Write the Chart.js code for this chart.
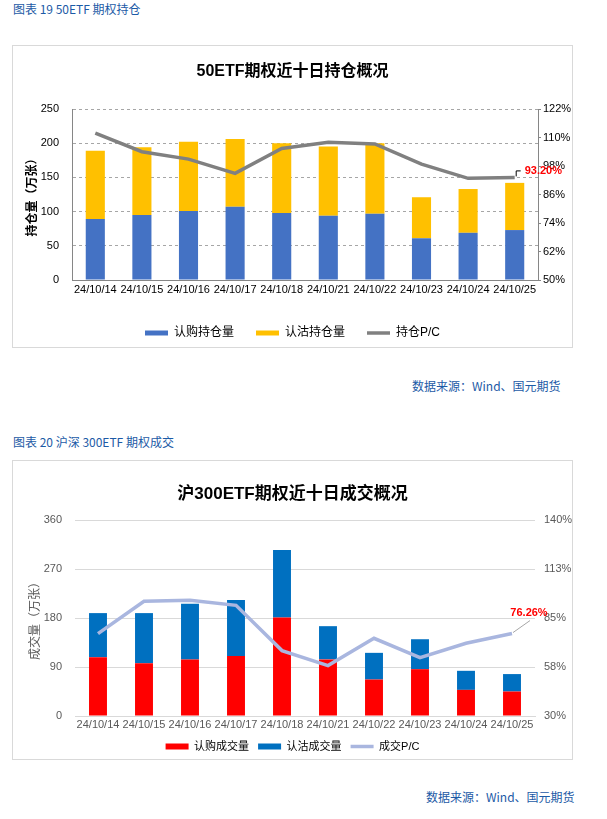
<!DOCTYPE html>
<html><head><meta charset="utf-8">
<script src="https://cdn.jsdelivr.net/npm/chart.js@4"></script>
<style>
body{margin:0;background:#fff;width:607px;height:819px;position:relative;overflow:hidden;font-family:'Liberation Sans','Noto Sans CJK SC',sans-serif;}
.hdr,.src{position:absolute;font-size:12px;color:#1c5aa6;line-height:16px;white-space:nowrap;font-family:'Noto Sans CJK SC','Liberation Sans',sans-serif;}
.box{position:absolute;left:12px;width:561px;border:1px solid #d9d9d9;box-sizing:border-box;}
.box canvas{position:absolute;left:0;top:0;}
</style></head>
<body>
<div class="hdr" style="left:13px;top:1px;">图表 19 50ETF 期权持仓</div>
<div class="box" style="top:45px;height:303px;"><canvas id="c1" width="559" height="301"></canvas></div>
<div class="src" style="left:412px;top:378px;">数据来源：Wind、国元期货</div>
<div class="hdr" style="left:13px;top:434px;">图表 20 沪深 300ETF 期权成交</div>
<div class="box" style="top:460px;height:300px;"><canvas id="c2" width="559" height="298"></canvas></div>
<div class="src" style="left:426px;top:789px;">数据来源：Wind、国元期货</div>
<script>
const dates = ['24/10/14','24/10/15','24/10/16','24/10/17','24/10/18','24/10/21','24/10/22','24/10/23','24/10/24','24/10/25'];
const oiCall = [89, 95, 101, 107, 98, 94, 97, 61, 69, 73];
const oiPut = [100, 99, 101, 99, 102, 101, 103, 60, 64, 69];
const oiPC = [111.8, 104.0, 100.9, 94.9, 105.4, 108.0, 107.3, 98.8, 92.8, 93.2];
const volCall = [108, 97, 104, 110, 181, 104, 67, 86, 48, 45];
const volPut = [81, 92, 102, 103, 124, 61, 49, 55, 35, 32];
const volPC = [76.2, 94.4, 94.9, 92.1, 66.7, 58.3, 73.6, 62.7, 70.8, 76.26];

Chart.defaults.font.family = "'Liberation Sans','Noto Sans CJK SC',sans-serif";

function legendLabels(chart){
  return Chart.defaults.plugins.legend.labels.generateLabels(chart).map(it => {
    const isLine = chart.data.datasets[it.datasetIndex].type === 'line';
    it.pointStyle = isLine ? 'line' : 'rect';
    if (!isLine) it.lineWidth = 0;
    return it;
  }).sort((a,b)=>a.datasetIndex-b.datasetIndex);
}

const lastLabel1 = {
  id:'lastLabel1',
  afterDraw(chart){
    const meta = chart.getDatasetMeta(2);
    const p = meta.data[meta.data.length-1];
    const ctx = chart.ctx; ctx.save();
    ctx.strokeStyle = '#000'; ctx.lineWidth = 1;
    ctx.beginPath(); ctx.moveTo(p.x+1.5, p.y-1); ctx.lineTo(p.x+1.5, p.y-6.5); ctx.lineTo(p.x+6, p.y-6.5); ctx.stroke();
    ctx.font = "bold 11px 'Liberation Sans'"; ctx.fillStyle = '#ff0000'; ctx.textBaseline = 'middle'; ctx.textAlign='left';
    ctx.fillText(oiPC[oiPC.length-1].toFixed(2)+'%', p.x+10, p.y-6.5);
    ctx.restore();
  }
};
const lastLabel2 = {
  id:'lastLabel2',
  afterDraw(chart){
    const meta = chart.getDatasetMeta(2);
    const p = meta.data[meta.data.length-1];
    const ctx = chart.ctx; ctx.save();
    ctx.strokeStyle = '#a6a6a6'; ctx.lineWidth = 1;
    ctx.beginPath(); ctx.moveTo(p.x+1, p.y-1); ctx.lineTo(p.x+18, p.y-13); ctx.stroke();
    ctx.font = "bold 11px 'Liberation Sans'"; ctx.fillStyle = '#ff0000'; ctx.textBaseline = 'middle'; ctx.textAlign='center';
    ctx.fillText(volPC[volPC.length-1].toFixed(2)+'%', p.x+17, p.y-21);
    ctx.restore();
  }
};

new Chart(document.getElementById('c1'), {
  type:'bar',
  data:{labels:dates, datasets:[
    {label:'认购持仓量', data:oiCall, backgroundColor:'#4472c4', stack:'s', yAxisID:'y', order:1},
    {label:'认沽持仓量', data:oiPut, backgroundColor:'#ffc000', stack:'s', yAxisID:'y', order:1},
    {type:'line', label:'持仓P/C', data:oiPC, borderColor:'#808080', backgroundColor:'#808080', borderWidth:3.5, pointRadius:0, yAxisID:'y1', order:0, tension:0}
  ]},
  options:{
    responsive:false, animation:false,
    layout:{padding:0},
    datasets:{bar:{categoryPercentage:1, barPercentage:0.41}},
    plugins:{
      title:{display:true, text:'50ETF期权近十日持仓概况', font:{size:16, weight:'bold'}, color:'#000', padding:{top:16.4, bottom:27.4}},
      legend:{position:'bottom', maxHeight:42, labels:{usePointStyle:true, pointStyleWidth:23, boxHeight:5, padding:22, font:{size:12}, color:'#000', generateLabels:legendLabels}},
      tooltip:{enabled:false}
    },
    scales:{
      x:{stacked:true, grid:{display:false, drawTicks:false}, border:{color:'#868686'}, ticks:{color:'#000', font:{size:11}, padding:3, autoSkip:false, maxRotation:0}, afterFit:s=>{s.height=25;}},
      y:{stacked:true, min:0, max:250, ticks:{stepSize:50, padding:13, color:'#000', font:{size:11}}, grid:{color:'#a6a6a6', drawTicks:false}, border:{color:'#868686', dash:[3,3]},
         title:{display:true, text:'持仓量（万张）', font:{size:12, weight:'bold'}, color:'#000', padding:{top:12, bottom:0}}, afterFit:s=>{s.width=59;}},
      y1:{position:'right', min:50, max:122, ticks:{stepSize:12, padding:2, color:'#000', font:{size:11}, callback:v=>v+'%'},
          grid:{drawOnChartArea:false, drawTicks:true, tickLength:3, tickColor:'#868686'}, border:{color:'#868686'}, afterFit:s=>{s.width=34;}}
    }
  },
  plugins:[lastLabel1]
});

new Chart(document.getElementById('c2'), {
  type:'bar',
  data:{labels:dates, datasets:[
    {label:'认购成交量', data:volCall, backgroundColor:'#ff0000', stack:'s', yAxisID:'y', order:1},
    {label:'认沽成交量', data:volPut, backgroundColor:'#0070c0', stack:'s', yAxisID:'y', order:1},
    {type:'line', label:'成交P/C', data:volPC, borderColor:'#a9b6df', backgroundColor:'#a9b6df', borderWidth:3.5, pointRadius:0, yAxisID:'y1', order:0, tension:0}
  ]},
  options:{
    responsive:false, animation:false,
    layout:{padding:0},
    datasets:{bar:{categoryPercentage:1, barPercentage:0.39}},
    plugins:{
      title:{display:true, text:'沪300ETF期权近十日成交概况', font:{size:17, weight:'bold'}, color:'#000', padding:{top:22.8, bottom:15.8}},
      legend:{position:'bottom', maxHeight:27, labels:{usePointStyle:true, pointStyleWidth:23, boxHeight:6, padding:9, font:{size:11}, color:'#000', generateLabels:legendLabels}},
      tooltip:{enabled:false}
    },
    scales:{
      x:{stacked:true, grid:{display:false, drawTicks:false}, border:{color:'#d9d9d9'}, ticks:{color:'#595959', font:{size:11}, padding:2, autoSkip:false, maxRotation:0}, afterFit:s=>{s.height=16;}},
      y:{stacked:true, min:0, max:360, ticks:{stepSize:90, padding:13, color:'#595959', font:{size:11}}, grid:{color:'#d9d9d9', drawTicks:false}, border:{display:false},
         title:{display:true, text:'成交量（万张）', font:{size:12}, color:'#595959', padding:{top:15, bottom:0}}, afterFit:s=>{s.width=62;}},
      y1:{position:'right', min:30, max:140, ticks:{stepSize:27.5, padding:9, color:'#595959', font:{size:11}, callback:v=>Math.round(v)+'%'},
          grid:{display:false, drawTicks:false}, border:{display:false}, afterFit:s=>{s.width=37;}}
    }
  },
  plugins:[lastLabel2]
});
</script>
</body></html>
